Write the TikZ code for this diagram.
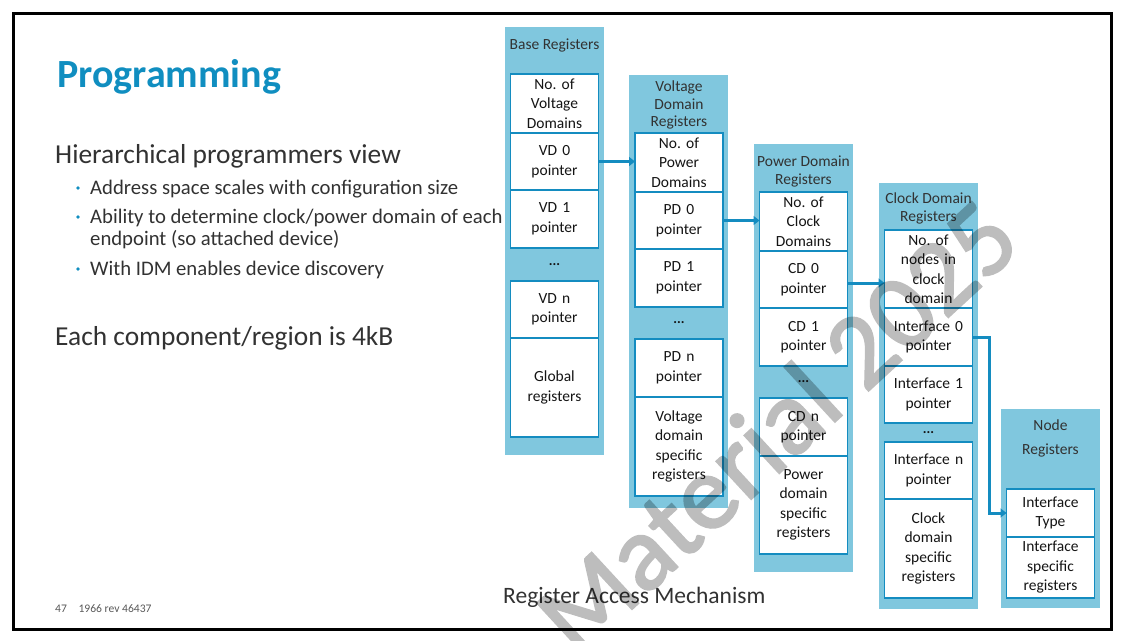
\documentclass[tikz,border=0pt]{standalone}
\usepackage{fontspec}
\setmainfont{Carlito}
\newfontfamily\stampfont[FakeBold=2]{Carlito}
\frenchspacing
\usetikzlibrary{positioning, arrows.meta, calc}

\definecolor{titleblue}{RGB}{16,142,192}
\definecolor{colbg}{RGB}{128,199,222}
\definecolor{regline}{RGB}{20,140,192}
\definecolor{inktext}{RGB}{20,20,20}
\definecolor{bodytext}{RGB}{50,50,50}

\tikzset{
  column/.style={fill=colbg, inner sep=0, outer sep=0, anchor=north west},
  coltitle/.style={align=center, text=bodytext, inner sep=0,
    font=\fontsize{15.5}{17.5}\selectfont},
  reg/.style={draw=regline, line width=1.3pt, fill=white,
    minimum width=88pt, text width=86pt, align=center,
    inner sep=0, outer sep=0, text=inktext,
    font=\fontsize{15.5}{19.5}\selectfont},
  more/.style={inner sep=0, text=inktext, font=\bfseries\fontsize{14}{14}\selectfont},
  ptr/.style={draw=regline, line width=3pt, -{Triangle[length=6pt,width=9pt]}},
  slidetext/.style={anchor=base west, inner sep=0, text=bodytext},
  bul/.style={circle, fill=titleblue, inner sep=0, minimum size=3.6pt},
  stamp/.style={rotate=42.7, text=black, inner sep=0,
    font=\stampfont\fontsize{107}{107}\selectfont}
}

\begin{document}
\begin{tikzpicture}[x=1pt, y=-1pt]
  \useasboundingbox (0,0) rectangle (1122,640);

  % slide frame
  \node[draw, line width=3pt, inner sep=0, anchor=north west,
    minimum width=1098pt, minimum height=616pt] (slide) at (11.5,11.5) {};

  % left text
  \node[slidetext, text=titleblue, font=\bfseries\fontsize{40}{40}\selectfont]
    (title) at (57,87) {Programming};
  \node[slidetext, font=\fontsize{27.4}{27.4}\selectfont]
    (view) at (55,163) {Hierarchical programmers view};
  \node[slidetext, font=\fontsize{20.7}{20.7}\selectfont]
    (b1) at (90,194) {Address space scales with configuration size};
  \node[slidetext, font=\fontsize{20.7}{20.7}\selectfont]
    (b2) at (90,223) {Ability to determine clock/power domain of each};
  \node[slidetext, font=\fontsize{20.7}{20.7}\selectfont]
    (b2x) at (90,245) {endpoint (so attached device)};
  \node[slidetext, font=\fontsize{20.7}{20.7}\selectfont]
    (b3) at (90,275) {With IDM enables device discovery};
  \node[bul] (d1) at (78,188) {};
  \node[bul] (d2) at (78,217) {};
  \node[bul] (d3) at (78,269) {};
  \node[slidetext, font=\fontsize{27.4}{27.4}\selectfont]
    (region) at (55,345) {Each component/region is 4kB};
  \node[slidetext, text=black!65, font=\fontsize{11.6}{11.6}\selectfont]
    (footer) at (55,612) {47\quad 1966 rev 46437};
  \node[slidetext, font=\fontsize{23.5}{23.5}\selectfont]
    (caption) at (503,603) {Register Access Mechanism};

  % Base registers
  \node[column, minimum width=99pt, minimum height=428pt] (basecol) at (505,27) {};
  \node[coltitle] (basettl) at (554.5,45) {Base Registers};
  \node[reg, minimum height=59pt, anchor=north] (nvd) at (554.5,74) {No. of\\Voltage\\Domains};
  \node[reg, minimum height=57pt, below=0pt of nvd] (vd0) {VD 0\\pointer};
  \node[reg, minimum height=58pt, below=0pt of vd0] (vd1) {VD 1\\pointer};
  \node[reg, minimum height=57pt, below=33pt of vd1] (vdn) {VD n\\pointer};
  \node[reg, minimum height=99pt, below=0pt of vdn] (glob) {Global\\registers};
  \node[more] (vddots) at ($(vd1.south)!0.5!(vdn.north)$) {...};

  % Voltage domain registers
  \node[column, minimum width=99pt, minimum height=433pt] (vdcol) at (629,75) {};
  \node[coltitle] (vdttl) at (679,105) {Voltage\\Domain\\Registers};
  \node[reg, minimum height=59pt, anchor=north] (npd) at (679,133) {No. of\\Power\\Domains};
  \node[reg, minimum height=57pt, below=0pt of npd] (pd0) {PD 0\\pointer};
  \node[reg, minimum height=58pt, below=0pt of pd0] (pd1) {PD 1\\pointer};
  \node[reg, minimum height=58pt, below=32pt of pd1] (pdn) {PD n\\pointer};
  \node[reg, minimum height=99pt, below=0pt of pdn] (vdreg) {Voltage\\domain\\specific\\registers};
  \node[more] (pddots) at ($(pd1.south)!0.5!(pdn.north)$) {...};

  % Power domain registers
  \node[column, minimum width=99pt, minimum height=428pt] (pdcol) at (754,144) {};
  \node[coltitle] (pdttl) at (803.5,171.5) {Power Domain\\Registers};
  \node[reg, minimum height=59pt, anchor=north] (ncd) at (803.5,192) {No. of\\Clock\\Domains};
  \node[reg, minimum height=57pt, below=0pt of ncd] (cd0) {CD 0\\pointer};
  \node[reg, minimum height=58pt, below=0pt of cd0] (cd1) {CD 1\\pointer};
  \node[reg, minimum height=58pt, below=32pt of cd1] (cdn) {CD n\\pointer};
  \node[reg, minimum height=98pt, below=0pt of cdn] (pdreg) {Power\\domain\\specific\\registers};
  \node[more] (cddots) at ($(cd1.south)!0.5!(cdn.north)$) {...};

  % Clock domain registers
  \node[column, minimum width=99pt, minimum height=426pt] (cdcol) at (879,183) {};
  \node[coltitle] (cdttl) at (928.5,208.5) {Clock Domain\\Registers};
  \node[reg, minimum height=78pt, anchor=north] (nnode) at (928.5,230) {No. of\\nodes in\\clock\\domain};
  \node[reg, minimum height=58pt, below=0pt of nnode] (if0) {Interface 0\\pointer};
  \node[reg, minimum height=57pt, below=0pt of if0] (if1) {Interface 1\\pointer};
  \node[reg, minimum height=57pt, below=19pt of if1] (ifn) {Interface n\\pointer};
  \node[reg, minimum height=99pt, below=0pt of ifn] (cdreg) {Clock\\domain\\specific\\registers};
  \node[more] (ifdots) at ($(if1.south)!0.5!(ifn.north)$) {...};

  % Node registers
  \node[column, minimum width=99pt, minimum height=199pt] (nodecol) at (1001,409) {};
  \node[coltitle] (nodettl) at (1050.5,438.5) {Node\\[7pt]Registers};
  \node[reg, minimum height=48pt, anchor=north] (itype) at (1050.5,489) {Interface\\Type};
  \node[reg, minimum height=61pt, below=0pt of itype] (ispec) {Interface\\specific\\registers};

  % pointers
  \draw[ptr] (vd0.east) -- (vd0.east -| npd.west);
  \draw[ptr] (pd0.east) -- (pd0.east -| ncd.west);
  \draw[ptr] ([yshift=-3.5pt]cd0.east) -- ([yshift=-3.5pt]cd0.east -| nnode.west);
  \draw[ptr] (if0.east) -- ++(17,0) |- (itype.west);

  % watermark
  \begin{scope}[transparency group, opacity=0.26]
    \node[stamp] (wm) at (776,426) {Material 2025};
  \end{scope}
\end{tikzpicture}
\end{document}
